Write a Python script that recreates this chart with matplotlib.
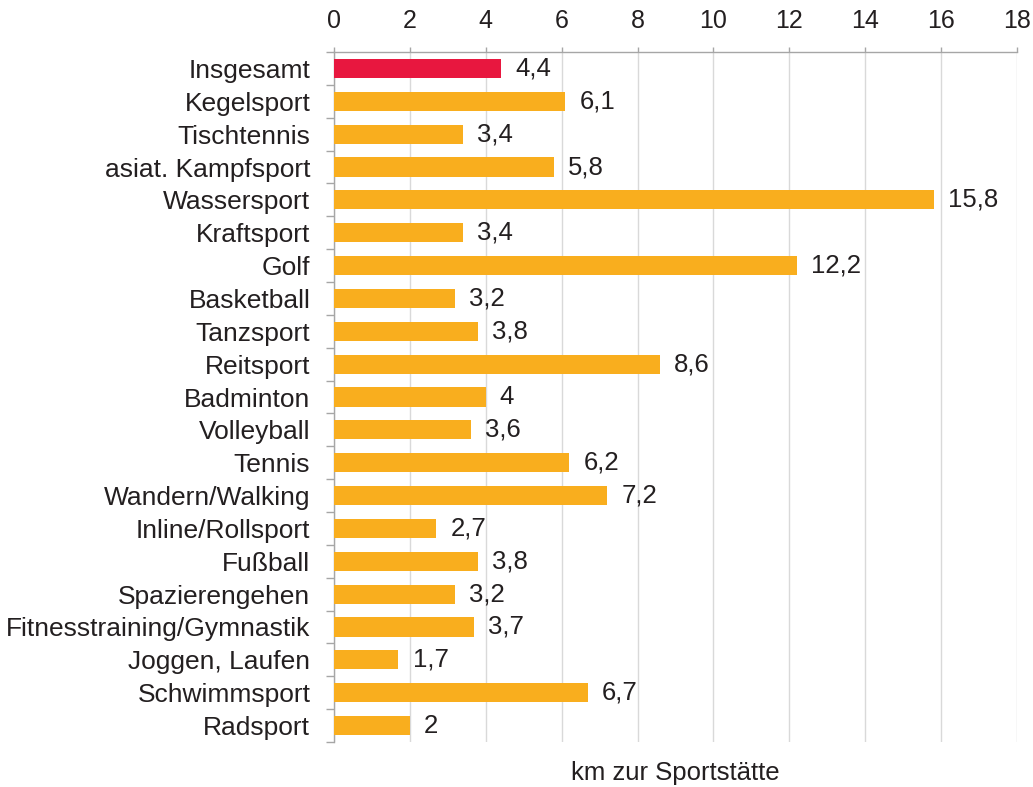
import matplotlib
matplotlib.use("Agg")
import matplotlib.pyplot as plt
import numpy as np

categories = ["Insgesamt", "Kegelsport", "Tischtennis", "asiat. Kampfsport", "Wassersport",
              "Kraftsport", "Golf", "Basketball", "Tanzsport", "Reitsport", "Badminton",
              "Volleyball", "Tennis", "Wandern/Walking", "Inline/Rollsport", "Fußball",
              "Spazierengehen", "Fitnesstraining/Gymnastik", "Joggen, Laufen", "Schwimmsport", "Radsport"]
values = [4.4, 6.1, 3.4, 5.8, 15.8, 3.4, 12.2, 3.2, 3.8, 8.6, 4, 3.6, 6.2, 7.2, 2.7, 3.8, 3.2, 3.7, 1.7, 6.7, 2]
xticks = [0, 2, 4, 6, 8, 10, 12, 14, 16, 18]
xlabel = "km zur Sportstätte"

plt.rcParams['font.family'] = ['Liberation Sans', 'DejaVu Sans']
txt = "#231F20"
red = "#E8173F"
orange = "#F9AE1E"

fig = plt.figure(figsize=(10.33, 7.87), dpi=100)
ax = fig.add_axes([0.3233, 0.0572, 0.6612, 0.8767])

n = len(categories)
y = np.arange(n)
colors = [red] + [orange] * (n - 1)
ax.barh(y, values, height=0.58, color=colors, zorder=3)
for yi, v in zip(y, values):
    ax.text(v + 0.37, yi, f"{v:g}".replace(".", ","), va="center", ha="left",
            fontsize=18.5, color=txt, zorder=4)

ax.set_ylim(n - 0.5, -0.5)
ax.set_xlim(0, 18)
ax.set_xticks(xticks)
ax.set_xticklabels([str(t) for t in xticks])
ax.xaxis.tick_top()
ax.grid(axis="x", color="#D9D9D9", linewidth=1.0, zorder=0)
ax.set_yticks(y)
ax.set_yticklabels(categories)
ax.set_yticks(np.arange(n + 1) - 0.5, minor=True)
ax.tick_params(axis="y", which="major", length=0, pad=17, labelsize=19, labelcolor=txt)
ax.tick_params(axis="y", which="minor", length=5.5, color="#A6A6A6", width=1)
ax.tick_params(axis="x", which="major", length=3.6, color="#A6A6A6", width=1, pad=10,
               labelsize=18, labelcolor=txt)

for s in ["right", "bottom"]:
    ax.spines[s].set_visible(False)
for s in ["top", "left"]:
    ax.spines[s].set_color("#A6A6A6")
    ax.spines[s].set_linewidth(1)

ax.set_xlabel(xlabel, fontsize=18.5, color=txt)
ax.xaxis.set_label_position("bottom")
ax.xaxis.labelpad = 14

fig.savefig("out.png", dpi=100)
